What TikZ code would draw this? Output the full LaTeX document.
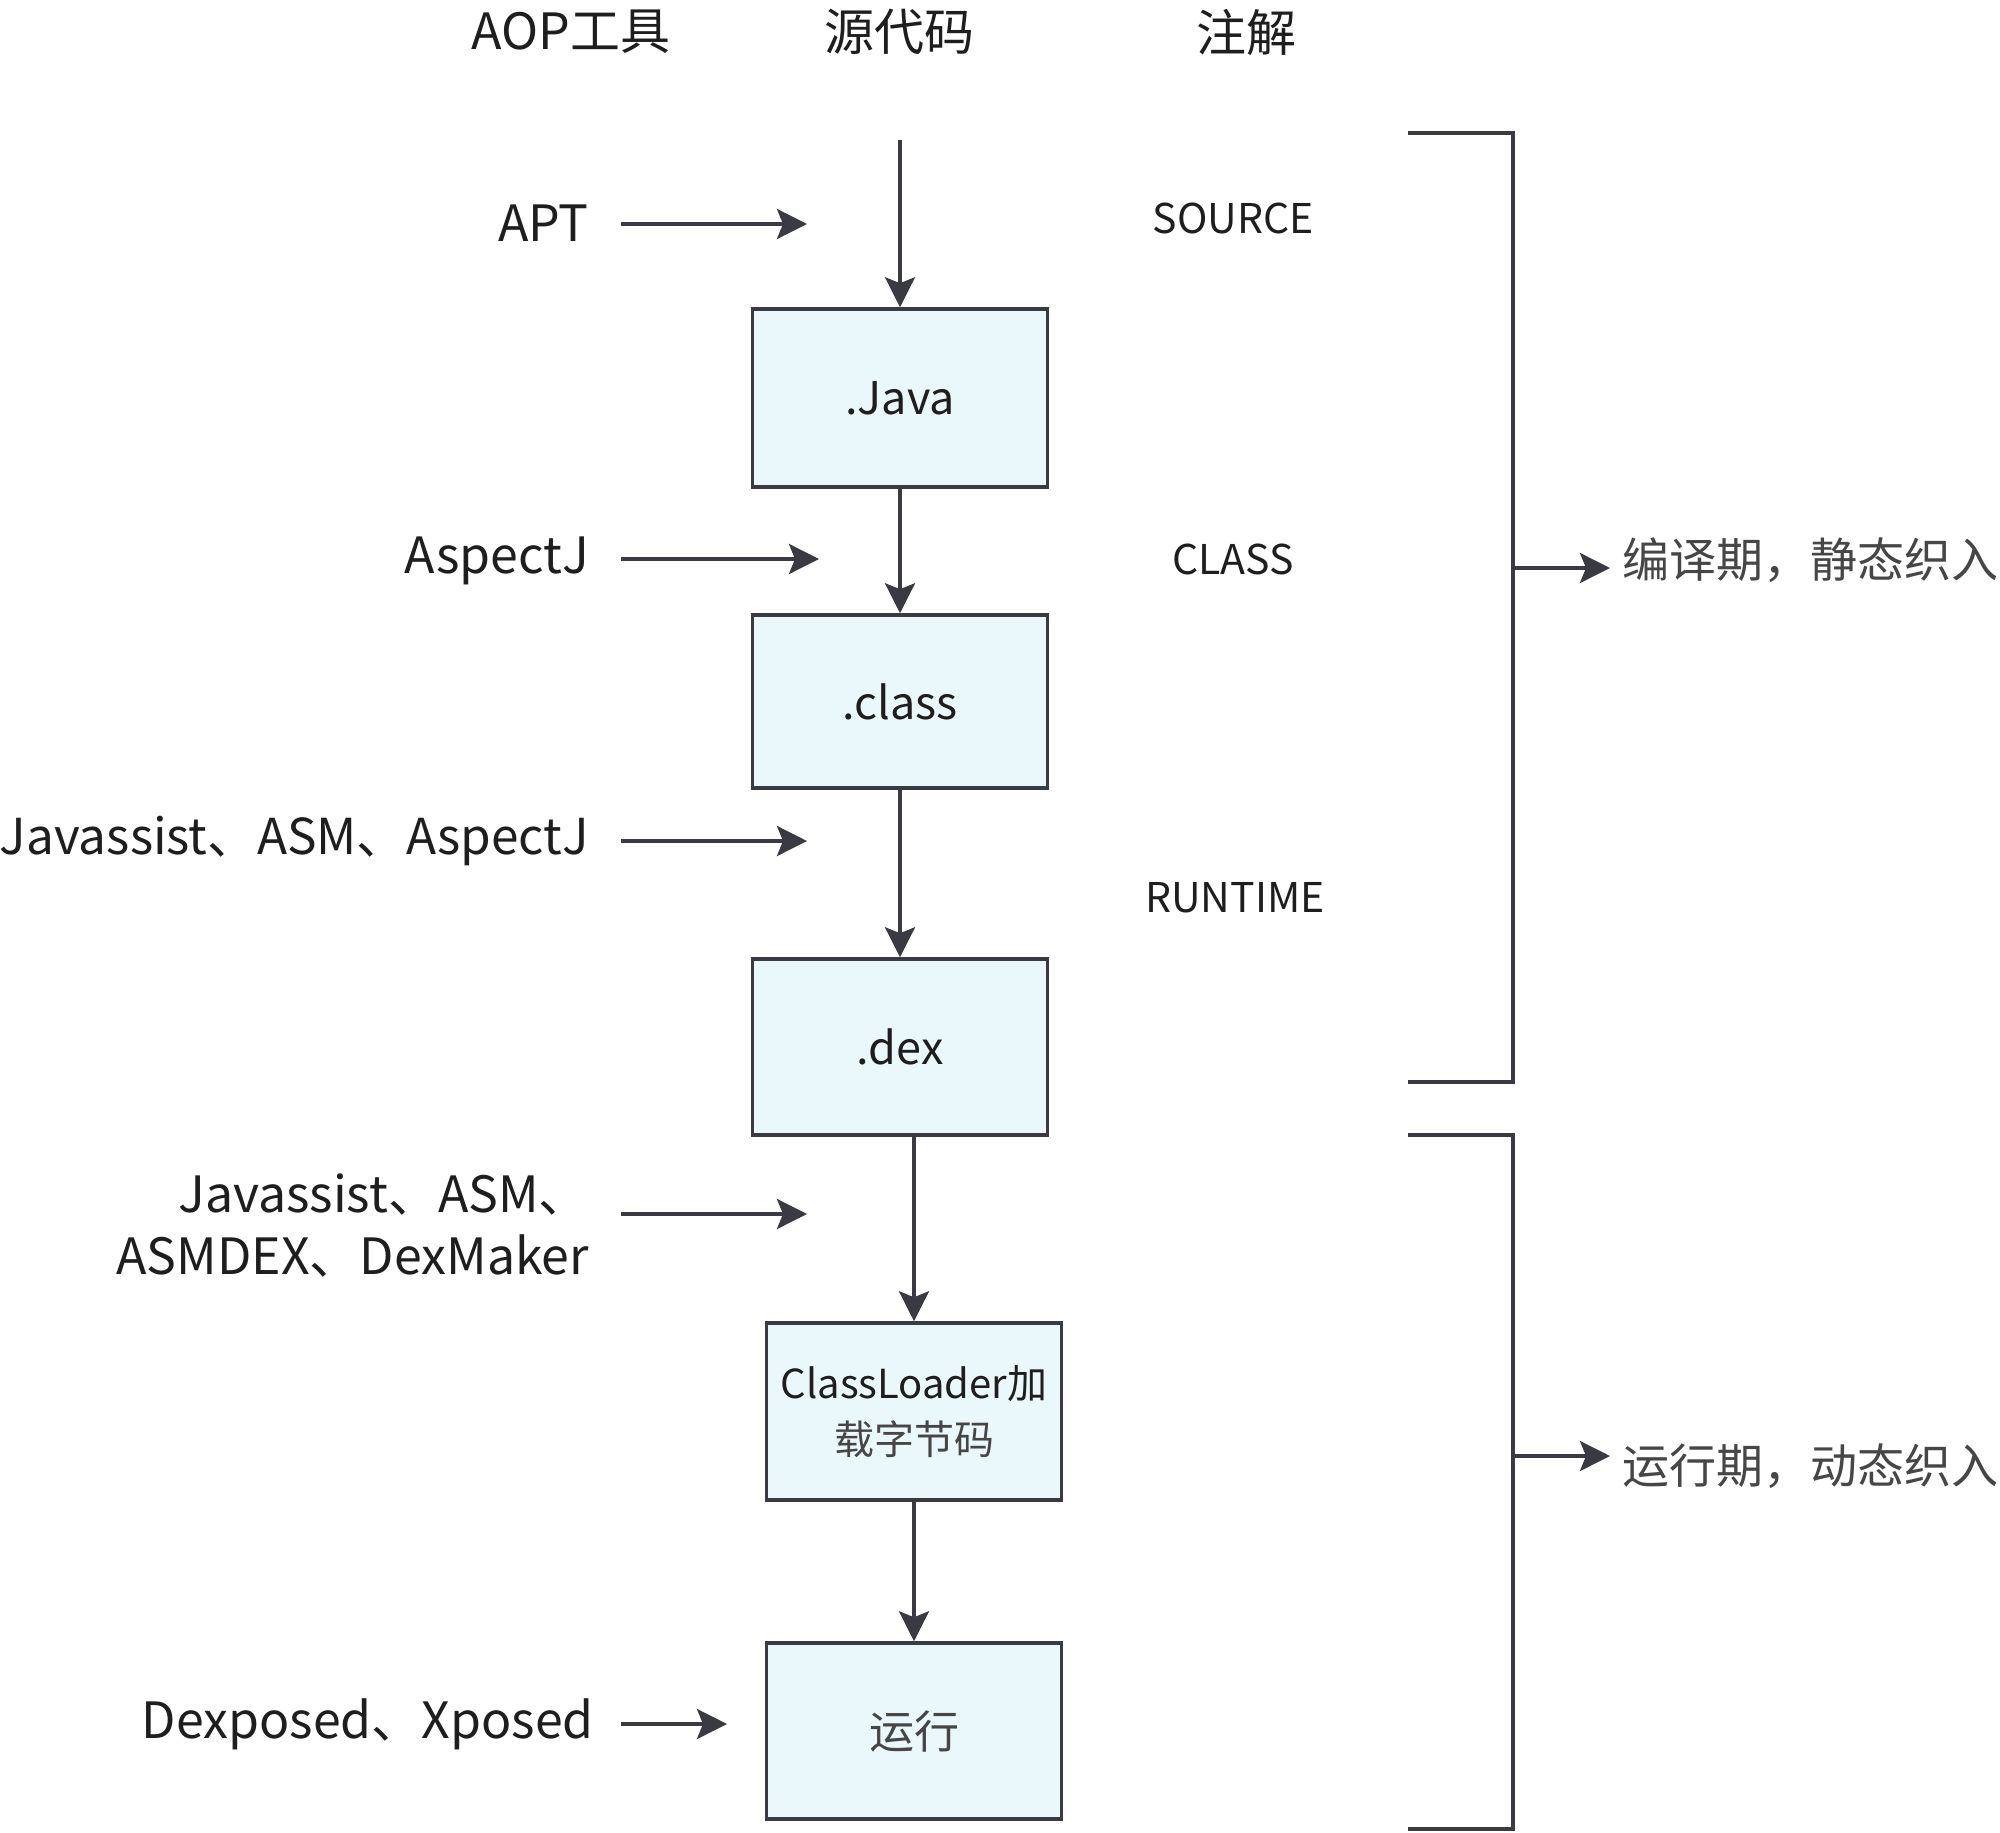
\documentclass[tikz,border=0pt]{standalone}
\usepackage{fontspec}
\setmainfont{Noto Sans CJK SC}
\usetikzlibrary{arrows.meta}
\definecolor{lc}{RGB}{58,58,66}
\definecolor{bf}{RGB}{234,248,252}
\definecolor{tc}{RGB}{30,30,30}
\definecolor{gc}{RGB}{70,70,70}
\begin{document}
\begin{tikzpicture}[x=1pt,y=-1pt,
  line/.style={draw=lc, line width=3.5pt},
  arr/.style={line, -{Stealth[length=30pt,width=30pt,inset=6pt]}},
  box/.style={draw=lc, line width=3.5pt, fill=bf, minimum width=295pt, minimum height=176pt, inner sep=0pt, align=center, text=tc, font=\fontsize{45}{54}\selectfont},
  lab/.style={font=\fontsize{50}{62}\selectfont, text=tc, inner sep=0pt},
  ann/.style={font=\fontsize{41}{50}\selectfont, text=tc, inner sep=0pt},
  rlab/.style={font=\fontsize{47}{56}\selectfont, text=gc, inner sep=0pt, anchor=west},
]
\useasboundingbox (0,0) rectangle (2000,1833);
\fill[white] (0,0) rectangle (2000,1833);

% headers
\node[lab] (h1) at (571,32) {AOP工具};
\node[lab] (h2) at (899,32) {源代码};
\node[lab] (h3) at (1246,32) {注解};

% flow boxes
\coordinate (src) at (900,140);
\node[box, minimum height=178pt] (java) at (900,398) {.Java};
\node[box, minimum height=173pt] (class) at (900,701.5) {.class};
\node[box] (dex) at (900,1047) {.dex};
\node[box, minimum height=177pt, font=\fontsize{40}{60}\selectfont] (cl) at (914,1411.5) {ClassLoader加\\[-4pt]\textcolor{gc}{载字节码}};
\node[box, text=gc] (run) at (914,1731) {运行};

\draw[arr] (src) -- (java);
\draw[arr] (java) -- (class);
\draw[arr] (class) -- (dex);
\draw[arr] (dex.south -| cl.north) -- (cl);
\draw[arr] (cl) -- (run);

% tools
\node[lab, anchor=east] (apt) at (589,223) {APT};
\node[lab, anchor=east] (aj) at (589,561) {AspectJ};
\node[lab, anchor=east, font=\fontsize{49.5}{60}\selectfont] (jaa) at (589,841) {Javassist、ASM、AspectJ};
\node[lab, anchor=east, align=right] (jad) at (589,1226) {Javassist、ASM、\\ASMDEX、DexMaker};
\node[lab, anchor=east] (dx) at (594,1724) {Dexposed、Xposed};

\coordinate (e1) at (807,224);
\coordinate (e2) at (819,559);
\coordinate (e3) at (807,841);
\coordinate (e4) at (807,1214);
\coordinate (e5) at (727,1724);
\draw[arr] (apt.east |- e1) ++(32,0) -- (e1);
\draw[arr] (aj.east |- e2) ++(32,0) -- (e2);
\draw[arr] (jaa.east |- e3) ++(32,0) -- (e3);
\draw[arr] (jad.east |- e4) ++(32,0) -- (e4);
\draw[arr] (dx.east |- e5) ++(27,0) -- (e5);

% annotations
\node[ann] (s1) at (1233,218) {SOURCE};
\node[ann] (s2) at (1233,559) {CLASS};
\node[ann] (s3) at (1235,898) {RUNTIME};

% brackets
\coordinate (b1a) at (1408,133);
\coordinate (b1b) at (1513,133);
\coordinate (b1c) at (1513,1082);
\coordinate (b1d) at (1408,1082);
\coordinate (b1m) at (1513,568);
\draw[line] (b1a) -- (b1b) -- (b1c) -- (b1d);
\node[rlab] (compile) at (1622,560) {编译期，静态织入};
\draw[arr, shorten >=12pt] (b1m) -- (b1m -| compile.west);

\coordinate (b2a) at (1408,1135);
\coordinate (b2b) at (1513,1135);
\coordinate (b2c) at (1513,1829);
\coordinate (b2d) at (1408,1829);
\coordinate (b2m) at (1513,1456);
\draw[line] (b2a) -- (b2b) -- (b2c) -- (b2d);
\node[rlab] (runtime) at (1622,1466) {运行期，动态织入};
\draw[arr, shorten >=12pt] (b2m) -- (b2m -| runtime.west);
\end{tikzpicture}
\end{document}
